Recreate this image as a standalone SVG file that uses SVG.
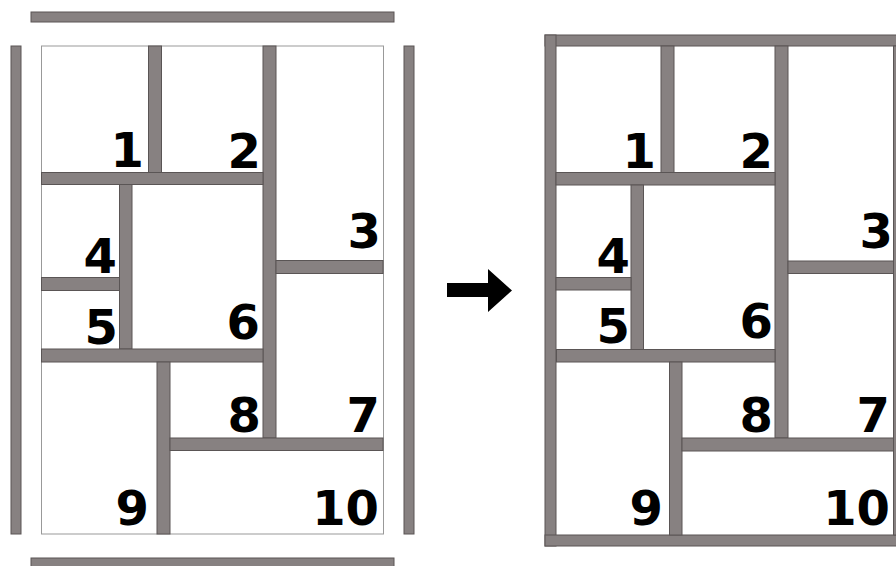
<svg xmlns="http://www.w3.org/2000/svg" width="896" height="566" viewBox="0 0 896 566">
<style>
.w{fill:#878181;stroke:#5a5555;stroke-width:1}
.box{fill:#fff;stroke:#999;stroke-width:1}
.n{font-family:"DejaVu Sans",sans-serif;font-weight:bold;font-size:48px;fill:#000;text-anchor:end}
</style>
<rect width="896" height="566" fill="#fff"/>
<g id="before">
  <rect class="box" x="41.5" y="46" width="342" height="488"/>
  <g id="frame-left">
    <rect class="w" x="31" y="12" width="363" height="10"/>
    <rect class="w" x="11" y="46" width="10" height="488"/>
    <rect class="w" x="404" y="46" width="10" height="488"/>
    <rect class="w" x="31" y="558" width="363" height="10"/>
  </g>
  <g id="walls-left">
    <rect class="w" x="148.5" y="46" width="13" height="126.5"/>
    <rect class="w" x="263" y="46" width="13" height="392"/>
    <rect class="w" x="41.5" y="172.5" width="221.5" height="12"/>
    <rect class="w" x="119.5" y="184.5" width="12.5" height="164.5"/>
    <rect class="w" x="41.5" y="277.5" width="78" height="13"/>
    <rect class="w" x="276" y="260.5" width="107" height="13"/>
    <rect class="w" x="41.5" y="349" width="221.5" height="13"/>
    <rect class="w" x="157" y="362" width="13" height="172"/>
    <rect class="w" x="170" y="438" width="213" height="12.5"/>
  </g>
  <g id="labels-left">
    <text class="n" x="144" y="167">1</text>
    <text class="n" x="261" y="168">2</text>
    <text class="n" x="381" y="248">3</text>
    <text class="n" x="117" y="273">4</text>
    <text class="n" x="118" y="344">5</text>
    <text class="n" x="260" y="339">6</text>
    <text class="n" x="380" y="432">7</text>
    <text class="n" x="261" y="432">8</text>
    <text class="n" x="149" y="525">9</text>
    <text class="n" x="379" y="525">10</text>
  </g>
</g>
<g id="arrow">
  <polygon points="447,283 488,283 488,269 512,290.5 488,312 488,297 447,297" fill="#000"/>
</g>
<g id="after">
  <rect fill="#fff" x="556" y="46" width="340" height="489"/>
  <g id="frame-right">
    <rect class="w" x="545" y="35" width="360" height="11"/>
    <rect class="w" x="545" y="35" width="11" height="511"/>
    <rect class="w" x="545" y="535" width="360" height="11"/>
    <rect class="w" x="893.5" y="46" width="11" height="489"/>
  </g>
  <g id="walls-right">
    <rect class="w" x="661" y="46" width="13" height="126.5"/>
    <rect class="w" x="775" y="46" width="13" height="392"/>
    <rect class="w" x="556" y="172.5" width="219" height="12.5"/>
    <rect class="w" x="631" y="185" width="12.5" height="164.5"/>
    <rect class="w" x="556" y="277.5" width="75" height="12.5"/>
    <rect class="w" x="788" y="261" width="105.5" height="12.5"/>
    <rect class="w" x="556.5" y="349.5" width="218.5" height="12.5"/>
    <rect class="w" x="669.5" y="362" width="12.5" height="173"/>
    <rect class="w" x="682" y="438" width="211.5" height="13"/>
  </g>
  <g id="labels-right">
    <text class="n" x="656" y="168">1</text>
    <text class="n" x="773" y="168">2</text>
    <text class="n" x="893" y="248">3</text>
    <text class="n" x="630" y="273">4</text>
    <text class="n" x="630" y="343">5</text>
    <text class="n" x="773" y="338">6</text>
    <text class="n" x="890" y="432">7</text>
    <text class="n" x="773" y="432">8</text>
    <text class="n" x="663" y="525">9</text>
    <text class="n" x="890" y="525">10</text>
  </g>
</g>
</svg>
